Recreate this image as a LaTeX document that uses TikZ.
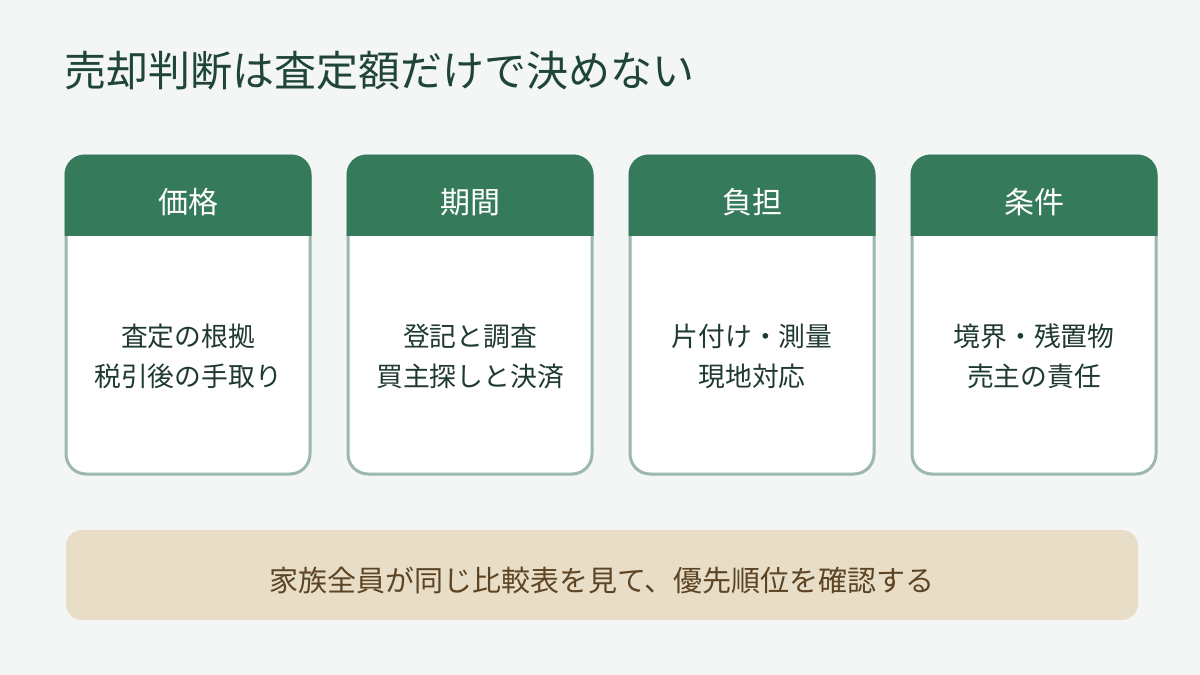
\documentclass[tikz,border=0pt]{standalone}
\usepackage{fontspec}
\setmainfont{Noto Sans CJK JP}
\definecolor{bg}{HTML}{F4F6F5}
\definecolor{hdr}{HTML}{367A5C}
\definecolor{bord}{HTML}{9CB8AC}
\definecolor{ttl}{HTML}{1E4535}
\definecolor{bodytxt}{HTML}{1F3A33}
\definecolor{note}{HTML}{E8DEC7}
\definecolor{notetxt}{HTML}{5C4424}
\tikzset{
  titletext/.style={anchor=west,text=ttl,font=\fontsize{42}{50}\selectfont,inner sep=0pt},
  hdrtext/.style={text=white,font=\fontsize{30}{36}\selectfont,inner sep=0pt},
  bodytext/.style={text=bodytxt,font=\fontsize{26.8}{40}\selectfont,align=center,inner sep=0pt},
  notetext/.style={text=notetxt,font=\fontsize{29}{34}\selectfont,inner sep=0pt},
}
\begin{document}
\begin{tikzpicture}[x=1pt,y=-1pt]
\useasboundingbox (0,0) rectangle (1200,675);
\fill[bg] (0,0) rectangle (1200,675);
\node[titletext] (title) at (64,71) {売却判断は査定額だけで決めない};
\foreach \x/\h/\a/\b/\n in {66/価格/査定の根拠/税引後の手取り/c1,348/期間/登記と調査/買主探しと決済/c2,630/負担/片付け・測量/現地対応/c3,912/条件/境界・残置物/売主の責任/c4}{
  \draw[bord,line width=3,fill=white,rounded corners=20] (\x,156) rectangle ++(244,318);
  \begin{scope}
    \clip[rounded corners=20] (\x-1.5,154.5) rectangle ++(247,321);
    \fill[hdr] (\x-3,153) rectangle (\x+247,236);
  \end{scope}
  \node[hdrtext] (\n h) at (\x+122,202) {\h};
  \node[bodytext] (\n b) at (\x+122,356) {\a\\\b};
}
\fill[note,rounded corners=16] (66,530) rectangle (1138,620);
\node[notetext] (note) at (602,580) {家族全員が同じ比較表を見て、優先順位を確認する};
\end{tikzpicture}
\end{document}
